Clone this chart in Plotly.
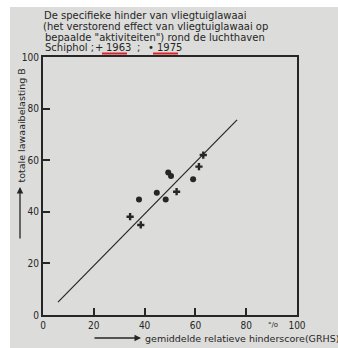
import plotly.graph_objects as go

# ---- data ----
x_1963 = [34.3, 38.5, 52.6, 61.4, 63.1]
y_1963 = [38.1, 34.9, 47.8, 57.5, 62.0]
x_1975 = [37.8, 44.8, 48.3, 49.3, 50.4, 59.1]
y_1975 = [44.8, 47.4, 44.8, 55.2, 53.9, 52.6]
line_x = [5.9, 76.4]
line_y = [5.0, 75.6]
tick_vals = [0, 20, 40, 60, 80, 100]
tick_text = ["0", "20", "40", "60", "80", "100"]

W, H = 338, 348
L, R, T, B = 43, 41, 57, 33
PW, PH = W - L - R, H - T - B

def px(x):  # pixel x -> paper
    return (x - L) / PW

def py(y):  # pixel y -> paper
    return (H - B - y) / PH

BG = "#dcdcda"
INK = "#262626"
FONT = "DejaVu Sans"
TICKFONT = "Liberation Sans Narrow, DejaVu Sans Condensed, sans-serif"

fig = go.Figure()
fig.add_trace(go.Scatter(x=line_x, y=line_y, mode="lines",
                         line=dict(color=INK, width=1.2), hoverinfo="skip",
                         showlegend=False))
fig.add_trace(go.Scatter(x=x_1963, y=y_1963, mode="markers", name="1963",
                         marker=dict(symbol="cross", size=6, color=INK),
                         showlegend=False))
fig.add_trace(go.Scatter(x=x_1975, y=y_1975, mode="markers", name="1975",
                         marker=dict(symbol="circle", size=6, color=INK),
                         showlegend=False))

axis_common = dict(range=[0, 100], tickvals=tick_vals, ticktext=tick_text,
                   showgrid=False, zeroline=False, showline=True, mirror=True,
                   linecolor=INK, linewidth=2, ticks="inside", ticklen=7,
                   tickwidth=1.5, tickcolor=INK,
                   tickfont=dict(family=TICKFONT, size=10, color=INK))
fig.update_xaxes(**axis_common)
fig.update_yaxes(**axis_common)

shapes = [
    # white margins of the scan
    dict(type="rect", xref="paper", yref="paper", x0=px(-5), x1=px(10),
         y0=py(H + 5), y1=py(-5), fillcolor="white", line_width=0, layer="below"),
    dict(type="rect", xref="paper", yref="paper", x0=px(-5), x1=px(W + 5),
         y0=py(7), y1=py(-5), fillcolor="white", line_width=0, layer="below"),
    # red underlines
    dict(type="line", xref="paper", yref="paper", x0=px(102), x1=px(127),
         y0=py(53.5), y1=py(53.5), line=dict(color="#d8232a", width=2)),
    dict(type="line", xref="paper", yref="paper", x0=px(153), x1=px(178),
         y0=py(53.5), y1=py(53.5), line=dict(color="#d8232a", width=2)),
]

ann = []
title_lines = [
    ("De specifieke hinder van vliegtuiglawaai", 42, 16),
    ("(het verstorend effect van vliegtuiglawaai op", 41, 26.5),
    ("bepaalde \"aktiviteiten\") rond de luchthaven", 43, 37),
]
for txt, xx, yy in title_lines:
    ann.append(dict(text=txt, x=px(xx), y=py(yy), xref="paper", yref="paper",
                    xanchor="left", yanchor="middle", showarrow=False,
                    font=dict(family=FONT, size=10, color=INK)))
last_parts = [("Schiphol ;", 43), ("+", 93), ("1963", 104), (";", 135),
              ("\u2022", 146), ("1975", 155)]
for txt, xx in last_parts:
    ann.append(dict(text=txt, x=px(xx), y=py(47.5), xref="paper", yref="paper",
                    xanchor="left", yanchor="middle", showarrow=False,
                    font=dict(family=FONT, size=10, color=INK)))

# y-axis title + arrow
ann.append(dict(text="totale lawaaibelasting B", x=px(21), y=py(125.5),
                xref="paper", yref="paper", textangle=-90, showarrow=False,
                xanchor="center", yanchor="middle",
                font=dict(family=FONT, size=9.5, color=INK)))
ann.append(dict(text="", x=px(20), y=py(187), xref="paper", yref="paper",
                ax=0, ay=53, showarrow=True, arrowhead=2, arrowsize=1,
                arrowwidth=1.3, arrowcolor=INK))
# x-axis title + arrow
ann.append(dict(text="", x=px(141), y=py(338), xref="paper", yref="paper",
                ax=-48, ay=0, showarrow=True, arrowhead=2, arrowsize=1,
                arrowwidth=1.3, arrowcolor=INK))
ann.append(dict(text="gemiddelde relatieve hinderscore(GRHS)", x=px(143), y=py(338),
                xref="paper", yref="paper", xanchor="left", yanchor="middle",
                showarrow=False, font=dict(family=FONT, size=9.5, color=INK)))
ann.append(dict(text="°/o", x=px(273), y=py(325), xref="paper", yref="paper",
                xanchor="center", yanchor="middle", showarrow=False,
                font=dict(family=FONT, size=7, color=INK)))

fig.update_layout(width=W, height=H, autosize=False,
                  margin=dict(l=L, r=R, t=T, b=B),
                  paper_bgcolor=BG, plot_bgcolor=BG,
                  shapes=shapes, annotations=ann, showlegend=False)

fig.write_html("out.html")
